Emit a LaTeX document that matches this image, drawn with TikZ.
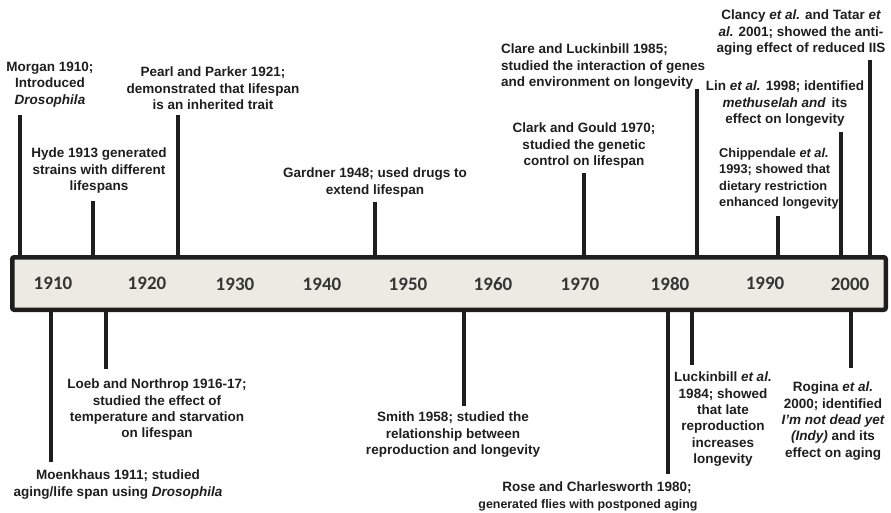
\documentclass[tikz,border=0pt]{standalone}
\usepackage{fontspec}
\setmainfont{Liberation Sans}
\newfontfamily\yearfont{Carlito}
\definecolor{barfill}{HTML}{ECEAE2}
\definecolor{inkgray}{HTML}{1E1E1E}

\begin{document}
\begin{tikzpicture}[x=1pt, y=-1pt,
    event/.style={font=\fontsize{13.5}{16.3}\selectfont\bfseries, align=center, inner sep=0pt, text=inkgray},
    year/.style={font=\yearfont\fontsize{19}{22}\selectfont\bfseries, text=inkgray!90},
    tick/.style={line width=3.2pt, inkgray}]

    \useasboundingbox (0,0) rectangle (891,513);

    % Time bar
    \node[draw=inkgray, line width=4.5pt, fill=barfill, rounded corners=2pt,
          minimum width=873.5pt, minimum height=52.5pt] (bar) at (449,283.5) {};

    % Decade labels
    \node[year] (y1910) at (53,283) {1910};
    \node[year] (y1920) at (147,283) {1920};
    \node[year] (y1930) at (235,284) {1930};
    \node[year] (y1940) at (322,284) {1940};
    \node[year] (y1950) at (408,284) {1950};
    \node[year] (y1960) at (493,284) {1960};
    \node[year] (y1970) at (580,284) {1970};
    \node[year] (y1980) at (670,284) {1980};
    \node[year] (y1990) at (765,283) {1990};
    \node[year] (y2000) at (850,284) {2000};

    % Events above the bar
    \node[event, anchor=north] (morgan) at (50,62) {Morgan 1910;\\Introduced\\{\itshape Drosophila}};
    \node[event, anchor=north] (hyde) at (99,148) {Hyde 1913 generated\\strains with different\\lifespans};
    \node[event, anchor=north] (pearl) at (213,67) {Pearl and Parker 1921;\\demonstrated that lifespan\\is an inherited trait};
    \node[event, anchor=north] (gardner) at (375,168) {Gardner 1948; used drugs to\\extend lifespan};
    \node[event, anchor=north] (clark) at (584,123) {Clark and Gould 1970;\\studied the genetic\\control on lifespan};
    \node[event, anchor=north west, align=left] (clare) at (501,44) {Clare and Luckinbill 1985;\\studied the interaction of genes\\and environment on longevity};
    \node[event, anchor=north west, align=left, font=\fontsize{12.8}{16.3}\selectfont\bfseries] (chippendale) at (719,148) {Chippendale {\itshape et al.}\\1993; showed that\\dietary restriction\\enhanced longevity};
    \node[event, anchor=north] (lin) at (785,81) {Lin {\itshape et al.} 1998; identified\\{\itshape methuselah and}\, its\\effect on longevity};
    \node[event, anchor=north] (clancy) at (801,10) {Clancy {\itshape et al.} and Tatar {\itshape et}\\{\itshape al.} 2001; showed the anti-\\aging effect of reduced IIS};

    % Upper ends of the ticks
    \coordinate (morganend) at (20,115);
    \coordinate (hydeend) at (93,201);
    \coordinate (pearlend) at (178,115);
    \coordinate (gardnerend) at (375,202);
    \coordinate (clarkend) at (584,173);
    \coordinate (clareend) at (697,89);
    \coordinate (chippendaleend) at (778,216);
    \coordinate (linend) at (841,132);
    \coordinate (clancyend) at (870,60);

    \foreach \e in {morgan, hyde, pearl, gardner, clark, clare, chippendale, lin, clancy}
        \draw[tick] (\e end) -- (\e end |- bar.north);

    % Events below the bar
    \node[event, anchor=north] (moenkhaus) at (118,470) {Moenkhaus 1911; studied\\aging/life span using {\itshape Drosophila}};
    \node[event, anchor=north] (loeb) at (157,379) {Loeb and Northrop 1916-17;\\studied the effect of\\temperature and starvation\\on lifespan};
    \node[event, anchor=north] (smith) at (453,412) {Smith 1958; studied the\\relationship between\\reproduction and longevity};
    \node[event, anchor=north] (rose) at (588,482) {\hspace*{18pt}Rose and Charlesworth 1980;\\{\fontsize{12.4}{16.3}\selectfont generated flies with postponed aging}};
    \node[event, anchor=north] (luckinbill) at (723,372) {Luckinbill {\itshape et al.}\\1984; showed\\that late\\reproduction\\increases\\longevity};
    \node[event, anchor=north] (rogina) at (833,382) {Rogina {\itshape et al.}\\2000; identified\\{\itshape I’m not dead yet}\\{\itshape (Indy)} and its\\effect on aging};

    % Lower ends of the ticks
    \coordinate (moenkhausend) at (51,462);
    \coordinate (loebend) at (106,369);
    \coordinate (smithend) at (464,406);
    \coordinate (roseend) at (668,474);
    \coordinate (luckinbillend) at (692,365);
    \coordinate (roginaend) at (851,368);

    \foreach \e in {moenkhaus, loeb, smith, rose, luckinbill, rogina}
        \draw[tick] (\e end) -- (\e end |- bar.south);
\end{tikzpicture}
\end{document}
